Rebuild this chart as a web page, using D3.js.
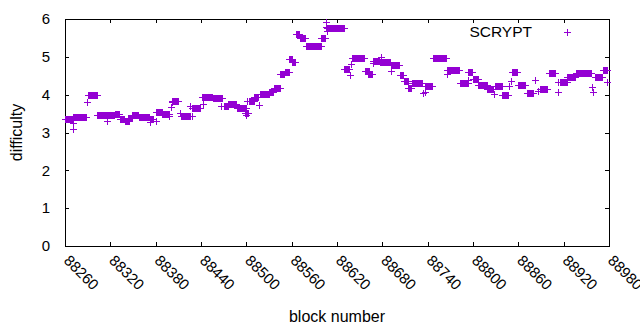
<!DOCTYPE html>
<html>
<head>
<meta charset="utf-8">
<script src="https://cdn.jsdelivr.net/npm/d3@7"></script>
<style>
  body { margin: 0; background: #fff; }
  text { font-family: "Liberation Sans", Arial, sans-serif; fill: #000; }
</style>
</head>
<body>
<script>
// runs of blocks sharing one difficulty value: [first block, last block, difficulty]
var segStart = [88260,88270,88270,88271,88289,88290,88303,88315,88326,88333,88339,88344,88349,88358,88372,88373,88380,88380,88382,88388,88398,88400,88402,88401,88412,88413,88425,88428,88428,88442,88441,88443,88456,88467,88470,88476,88487,88498,88500,88500,88501,88503,88510,88517,88518,88530,88536,88545,88551,88557,88561,88566,88571,88579,88599,88605,88606,88607,88607,88629,88637,88639,88640,88657,88661,88667,88667,88678,88677,88692,88692,88703,88709,88714,88719,88734,88736,88737,88747,88765,88766,88783,88793,88794,88800,88807,88818,88828,88829,88839,88848,88850,88851,88860,88871,88882,88886,88889,88900,88912,88913,88915,88925,88936,88957,88959,88961,88972,88978];
var segEnd   = [88269,88270,88270,88288,88289,88302,88325,88315,88332,88338,88345,88349,88357,88371,88376,88373,88380,88380,88389,88398,88398,88400,88402,88410,88412,88426,88425,88428,88439,88442,88441,88455,88468,88467,88476,88486,88500,88498,88502,88500,88501,88510,88516,88517,88530,88535,88545,88550,88556,88560,88564,88570,88578,88599,88604,88605,88606,88607,88629,88636,88637,88639,88656,88662,88666,88667,88676,88678,88690,88702,88692,88708,88714,88718,88733,88734,88746,88737,88764,88765,88782,88793,88799,88794,88806,88818,88827,88828,88838,88846,88848,88850,88858,88869,88880,88882,88886,88898,88908,88912,88913,88924,88935,88956,88957,88959,88971,88978,88978];
var segDiff  = [3.35,3.09,3.26,3.40,3.81,3.98,3.45,3.30,3.48,3.37,3.30,3.38,3.45,3.42,3.37,3.27,3.30,3.55,3.55,3.50,3.43,3.67,3.81,3.82,3.51,3.43,3.71,3.44,3.65,3.75,3.95,3.95,3.90,3.71,3.69,3.76,3.64,3.51,3.52,3.46,3.83,3.84,3.93,3.73,4.01,4.07,4.17,4.54,4.60,4.93,4.87,5.60,5.49,5.28,5.49,5.93,5.80,5.67,5.75,4.67,4.52,4.80,4.96,4.63,4.54,4.83,4.88,5.00,4.86,4.78,4.63,4.51,4.35,4.18,4.30,4.04,4.23,4.06,4.96,4.54,4.65,4.30,4.59,4.39,4.41,4.25,4.16,4.03,4.22,3.98,4.23,4.36,4.59,4.25,4.05,4.39,4.10,4.16,4.57,4.34,4.06,4.33,4.47,4.56,4.21,4.06,4.48,4.64,4.33];

var xTicks = [88260,88320,88380,88440,88500,88560,88620,88680,88740,88800,88860,88920,88980];
var yTicks = [0,1,2,3,4,5,6];
var seriesName = "SCRYPT";

var W = 640, H = 330;
var plotL = 65, plotR = 609, plotT = 19, plotB = 246;
var color = "#9400d3";

var svg = d3.select("body").append("svg")
    .attr("width", W)
    .attr("height", H);

var x = d3.scaleLinear().domain([88260, 88980]).range([plotL, plotR]);
var y = d3.scaleLinear().domain([0, 6]).range([plotB, plotT]);

// one point per block
var points = [];
segStart.forEach(function(s, i) {
  for (var b = s; b <= segEnd[i]; b++) points.push({block: b, diff: segDiff[i]});
});

function plus(cx, cy, r) {
  return "M" + (cx - r) + "," + cy + "h" + (2 * r) + "M" + cx + "," + (cy - r) + "v" + (2 * r);
}

// axes, ticks pointing inwards, mirrored on top and right
var ax = svg.append("g").attr("shape-rendering", "crispEdges");

var xb = ax.append("g").attr("transform", "translate(0," + plotB + ")")
    .call(d3.axisBottom(x).tickValues(xTicks).tickSize(-4).tickFormat(d3.format("d")));
xb.selectAll("text")
    .attr("x", 0).attr("y", 0).attr("dy", "0.8em")
    .attr("text-anchor", "start")
    .attr("transform", "translate(6,7) rotate(45)");

ax.append("g").attr("transform", "translate(0," + plotT + ")")
    .call(d3.axisTop(x).tickValues(xTicks).tickSize(-4).tickFormat(""));

ax.append("g").attr("transform", "translate(" + plotL + ",0)")
    .call(d3.axisLeft(y).tickValues(yTicks).tickSize(-4).tickPadding(15).tickFormat(d3.format("d")));

ax.append("g").attr("transform", "translate(" + plotR + ",0)")
    .call(d3.axisRight(y).tickValues(yTicks).tickSize(-4).tickFormat(""));

ax.selectAll(".domain").remove();
ax.selectAll(".tick line").attr("stroke", "#000");
ax.selectAll(".tick text").attr("font-size", 15).attr("font-family", null).attr("fill", "#000");

ax.append("rect")
    .attr("x", plotL).attr("y", plotT)
    .attr("width", plotR - plotL).attr("height", plotB - plotT)
    .attr("fill", "none").attr("stroke", "#000");

svg.append("g")
    .attr("shape-rendering", "crispEdges")
    .selectAll("path")
    .data(points)
    .enter()
    .append("path")
    .attr("d", function(d) { return plus(Math.round(x(d.block)) + 0.5, Math.round(y(d.diff)) + 0.5, 3.5); })
    .attr("stroke", color)
    .attr("stroke-width", 1)
    .attr("fill", "none");

// labels
svg.append("text")
    .attr("x", (plotL + plotR) / 2).attr("y", 322)
    .attr("text-anchor", "middle").attr("font-size", 16)
    .text("block number");

svg.append("text")
    .attr("transform", "translate(22," + ((plotT + plotB) / 2) + ") rotate(-90)")
    .attr("text-anchor", "middle").attr("font-size", 16)
    .text("difficulty");

// legend
svg.append("text")
    .attr("x", 532).attr("y", 37)
    .attr("text-anchor", "end").attr("font-size", 15.5)
    .text(seriesName);

svg.append("path")
    .attr("shape-rendering", "crispEdges")
    .attr("d", plus(567.5, 32.5, 3.5))
    .attr("stroke", color).attr("fill", "none");
</script>
</body>
</html>
